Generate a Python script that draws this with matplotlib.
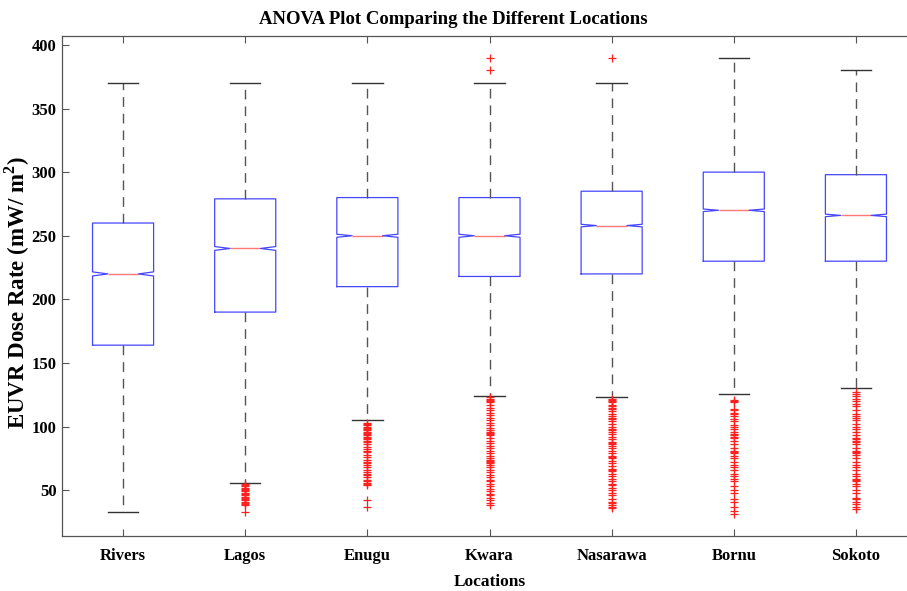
"""Notched box plot of EUVR dose rate for the seven locations (MATLAB-style)."""

import matplotlib
matplotlib.use("Agg")
import matplotlib.pyplot as plt

plt.rcParams["font.family"] = ["Liberation Serif", "DejaVu Serif"]
plt.rcParams["font.weight"] = "bold"
plt.rcParams["mathtext.fontset"] = "custom"
plt.rcParams["mathtext.rm"] = "Liberation Serif:bold"
plt.rcParams["mathtext.bf"] = "Liberation Serif:bold"

LOCATIONS = ["Rivers", "Lagos", "Enugu", "Kwara", "Nasarawa", "Bornu", "Sokoto"]

# box statistics
WHISK_LO = [33, 56, 105, 124, 123, 126, 130]
Q1       = [164, 190, 210, 218, 220, 230, 230]
MEDIAN   = [220, 240, 250, 250, 258, 270, 266]
Q3       = [260, 279, 280, 280, 285, 300, 298]
WHISK_HI = [370, 370, 370, 370, 370, 390, 380]
NOTCH    = [1.6, 1.5, 1.2, 1.2, 1.0, 1.0, 1.0]   # half height of the notch

OUTLIERS = [
    [],
    [33, 38, 39, 40, 41, 42, 43, 44, 45, 46, 47, 48, 49, 50, 51, 52, 53, 54, 55],
    [37, 42, 54, 55, 56, 57, 58, 60, 62, 63, 64, 66, 68, 70, 71, 72, 74, 76, 78,
     80, 81, 82, 84, 86, 88, 89, 90, 91, 92, 93, 94, 95, 96, 97, 98, 99, 100,
     101, 102, 103],
    [38, 40, 42, 44, 46, 47, 49, 51, 53, 55, 57, 58, 60, 62, 64, 66, 68, 70,
     71, 72, 73, 74, 75, 77, 79, 81, 83, 85, 87, 89, 91, 93, 94, 95, 96, 97,
     99, 101, 103, 105, 107, 109, 111, 113, 115, 117, 119, 120, 121, 122, 123,
     380, 390],
    [36, 37, 38, 40, 41, 43, 46, 48, 50, 52, 54, 55, 57, 59, 61, 63, 65, 66, 67,
     69, 71, 73, 75, 76, 77, 79, 81, 83, 85, 86, 87, 88, 90, 92, 94, 96, 97, 98,
     100, 102, 104, 106, 107, 108, 110, 112, 114, 115, 116, 117, 119, 120, 121,
     122, 390],
    [31, 34, 37, 41, 43, 48, 50, 53, 57, 59, 61, 63, 66, 68, 70, 72, 75, 77,
     79, 80, 81, 83, 86, 89, 91, 92, 93, 94, 96, 98, 100, 101, 104, 106, 108,
     110, 111, 113, 114, 119, 120, 121],
    [35, 37, 39, 41, 43, 44, 48, 50, 53, 55, 57, 58, 59, 61, 63, 66, 68, 70, 72,
     75, 78, 79, 80, 81, 83, 86, 88, 89, 90, 91, 93, 96, 98, 100, 102, 105, 107,
     108, 110, 113, 116, 118, 120, 122, 124, 126, 127],
]

YLIM = (14, 407)
YTICKS = [50, 100, 150, 200, 250, 300, 350, 400]

BLUE = "#4646ff"
RED = "#ff2020"
WHISK = "#555555"

stats = []
for i, name in enumerate(LOCATIONS):
    stats.append({
        "label": name,
        "whislo": WHISK_LO[i], "q1": Q1[i], "med": MEDIAN[i],
        "q3": Q3[i], "whishi": WHISK_HI[i],
        "cilo": MEDIAN[i] - NOTCH[i], "cihi": MEDIAN[i] + NOTCH[i],
        "fliers": OUTLIERS[i],
    })

fig = plt.figure(figsize=(9.07, 5.91), dpi=100)
# right part of the axes box falls outside the picture, as in the reference
ax = fig.add_axes([62 / 907, 55 / 591, 855 / 907, 500 / 591])

ax.bxp(stats, widths=0.5, capwidths=0.25, shownotches=True,
       boxprops=dict(color=BLUE, lw=0.9),
       medianprops=dict(color=RED, lw=1.0, alpha=0.6),
       whiskerprops=dict(color=WHISK, lw=1.0, ls=(0, (7, 5))),
       capprops=dict(color="#333333", lw=1.0),
       flierprops=dict(marker="+", markeredgecolor=RED, markersize=6,
                       markeredgewidth=0.9, linestyle="none"))

ax.set_xlim(0.5, 7.5)
ax.set_ylim(*YLIM)
ax.set_yticks(YTICKS)
ax.tick_params(direction="in", length=5, width=0.8, color="#555555",
               top=True, right=True, labelsize=12)
ax.tick_params(axis="y", pad=4)
ax.tick_params(axis="x", pad=9)
for sp in ax.spines.values():
    sp.set_color("#555555")
    sp.set_linewidth(0.9)

ax.set_xlabel("Locations", fontsize=12.5, fontweight="bold", labelpad=7)
ax.set_ylabel(r"EUVR Dose Rate (mW/ m$^{2}$)", fontsize=16.5,
              fontweight="bold")
ax.yaxis.set_label_coords((32 - 62) / 855, 0.486)
fig.text(453 / 907, 1 - 19 / 591, "ANOVA Plot Comparing the Different Locations",
         ha="center", va="center", fontsize=13.5, fontweight="bold")

fig.savefig("out.png", dpi=100)
